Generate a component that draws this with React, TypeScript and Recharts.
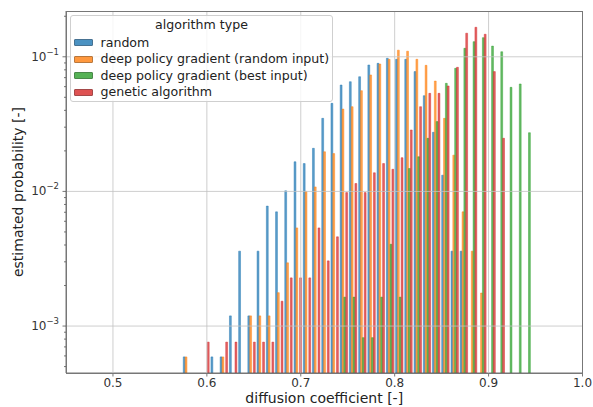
import React from 'react';
import { ComposedChart, Bar, XAxis, YAxis, CartesianGrid } from 'recharts';

const binCenters = [
  0.5787, 0.5885, 0.5984, 0.6082, 0.618, 0.6279, 0.6377, 0.6475, 0.6573, 0.6672,
  0.677, 0.6868, 0.6967, 0.7065, 0.7163, 0.7262, 0.736, 0.7458, 0.7556, 0.7655,
  0.7753, 0.7851, 0.795, 0.8048, 0.8146, 0.8245, 0.8343, 0.8441, 0.8539, 0.8638,
  0.8736, 0.8834, 0.8933, 0.9031, 0.9129, 0.9228, 0.9326, 0.9424,
];

const randomVals = [
  0.00059, null, null, 0.00059, 0.00059, 0.00119, 0.0036, 0.00119, 0.0036, 0.00778,
  0.00705, 0.0101, 0.0166, 0.0161, 0.0209, 0.0349, 0.0451, 0.0617, 0.0653, 0.0711,
  0.0869, 0.0894, 0.0975, 0.0958, 0.0958, 0.0776, 0.0514, 0.0275, 0.0132, 0.0036,
  0.0036, null, null, null, null, null, null, null,
];

const dpgRandomVals = [
  0.00059, null, null, null, 0.00059, null, null, 0.00119, 0.00119, 0.00119,
  0.00177, 0.00295, 0.00536, 0.01, 0.0108, 0.0197, 0.0191, 0.0409, 0.0426, 0.056,
  0.0733, 0.0884, 0.0958, 0.112, 0.11, 0.0958, 0.0864, 0.066, 0.0349, 0.0186,
  0.00705, 0.0036, 0.00176, null, null, null, null, null,
];

const dpgBestVals = [
  null, null, null, null, null, null, null, null, null, null,
  null, null, null, null, null, null, null, 0.00164, 0.00164, 0.00082,
  0.00082, 0.00164, 0.00405, 0.00164, 0.0148, 0.0181, 0.0248, 0.033, 0.0635, 0.0821,
  0.1156, 0.1295, 0.1387, 0.12, 0.109, 0.0593, 0.0628, 0.0273,
];

const geneticVals = [
  null, null, 0.00076, null, 0.00076, 0.00076, null, 0.00076, 0.00076, 0.00076,
  0.00153, 0.00228, 0.00228, 0.00228, 0.00536, 0.00305, 0.0046, 0.0098, 0.01145, 0.0098,
  0.01375, 0.0161, 0.0146, 0.0178, 0.0286, 0.0426, 0.0535, 0.0535, 0.0607, 0.0835,
  0.1496, 0.1656, 0.147, 0.0776, 0.0248, null, null, null,
];

const seriesNames = [
  'random',
  'deep policy gradient (random input)',
  'deep policy gradient (best input)',
  'genetic algorithm',
];
const seriesColors = ['#1f77b4', '#ff7f0e', '#2ca02c', '#d62728'];
const seriesEdges = ['#1a4f78', '#a8580e', '#1e6b1e', '#8e1c1c'];
const seriesValues = [randomVals, dpgRandomVals, dpgBestVals, geneticVals];

const legendTitle = 'algorithm type';
const xLabel = 'diffusion coefficient [-]';
const yLabel = 'estimated probability [-]';

const xTicks = [0.5, 0.6, 0.7, 0.8, 0.9, 1.0];
const xGridValues = [0.5, 0.6, 0.7, 0.8, 0.9];
const yMajorTicks = [0.001, 0.01, 0.1];
const yAllTicks = [
  0.0005, 0.0006, 0.0007, 0.0008, 0.0009, 0.001,
  0.002, 0.003, 0.004, 0.005, 0.006, 0.007, 0.008, 0.009, 0.01,
  0.02, 0.03, 0.04, 0.05, 0.06, 0.07, 0.08, 0.09, 0.1, 0.2,
];

const X_DOMAIN: [number, number] = [0.45, 1.0];
const Y_DOMAIN: [number, number] = [0.000448, 0.2188];

const FONT = '"DejaVu Sans", sans-serif';

const PLOT = { left: 66, top: 11, right: 10.5, bottom: 34 };
const W = 593;
const H = 407;

const data = binCenters.map((x, i) => {
  const row: Record<string, number | null> = { x };
  seriesValues.forEach((vals, s) => {
    row['s' + s] = vals[i];
  });
  return row;
});

const YTick = (props: any) => {
  const { x, y, payload } = props;
  const v = payload.value as number;
  const lg = Math.log10(v);
  const e = Math.round(lg);
  const major = Math.abs(lg - e) < 1e-6;
  return (
    <g>
      <line x1={x - (major ? 3.5 : 2)} x2={x} y1={y} y2={y} stroke="#555" strokeWidth={0.8} />
      {major && (
        <text x={x - 7} y={y + 4} textAnchor="end" fontSize={12} fill="#333" fontFamily={FONT}>
          10
          <tspan dy={-6} fontSize={8.5}>{'\u2212' + String(-e)}</tspan>
        </text>
      )}
    </g>
  );
};

export default function App() {
  return (
    <div style={{ position: 'fixed', left: 0, top: 0, width: W, height: H, background: '#fff', fontFamily: FONT }}>
      <ComposedChart
        width={W}
        height={H}
        data={data}
        margin={{ top: PLOT.top, right: PLOT.right, left: 0, bottom: 0 }}
        barSize={1.85}
        barGap={0}
        barCategoryGap="10%"
      >
        {seriesNames.map((name, s) => (
          <Bar
            key={name}
            dataKey={'s' + s}
            name={name}
            fill={seriesColors[s]}
            fillOpacity={0.72}
            stroke={seriesColors[s]}
            strokeWidth={0.45}
            isAnimationActive={false}
          />
        ))}
        <CartesianGrid
          horizontalValues={yMajorTicks}
          verticalValues={xGridValues}
          stroke="#c2c2c2"
          strokeWidth={0.8}
          zIndex={600}
        />
        <XAxis
          dataKey="x"
          type="number"
          domain={X_DOMAIN}
          allowDataOverflow
          ticks={xTicks}
          interval={0}
          tickFormatter={(v: number) => v.toFixed(1)}
          height={PLOT.bottom}
          tickSize={3.5}
          tickMargin={2}
          tick={{ fontSize: 12, fill: '#333', fontFamily: FONT }}
          tickLine={{ stroke: '#555', strokeWidth: 0.8 }}
          axisLine={{ stroke: '#666', strokeWidth: 0.9 }}
          label={{ value: xLabel, position: 'insideBottom', offset: 4, fontSize: 14, fill: '#222', fontFamily: FONT }}
        />
        <YAxis
          scale="log"
          type="number"
          domain={Y_DOMAIN}
          allowDataOverflow
          ticks={yAllTicks}
          interval={0}
          width={PLOT.left}
          tickSize={0}
          tickMargin={0}
          tickLine={false}
          tick={<YTick />}
          axisLine={{ stroke: '#666', strokeWidth: 0.9 }}
        />
      </ComposedChart>

      <div
        style={{
          position: 'absolute',
          left: PLOT.left - 0.5,
          top: PLOT.top - 0.5,
          width: W - PLOT.left - PLOT.right + 1,
          height: H - PLOT.top - PLOT.bottom + 1,
          boxSizing: 'border-box',
          border: '1px solid #777',
          pointerEvents: 'none',
        }}
      />

      <div
        style={{
          position: 'absolute',
          left: 18,
          top: 192,
          transform: 'translate(-50%, -50%) rotate(-90deg)',
          whiteSpace: 'nowrap',
          fontSize: 14,
          color: '#222',
          fontFamily: FONT,
        }}
      >
        {yLabel}
      </div>

      <div
        style={{
          position: 'absolute',
          left: 70,
          top: 15,
          width: 263,
          height: 87,
          boxSizing: 'border-box',
          border: '1px solid #cfcfcf',
          borderRadius: 3,
          background: 'rgba(255,255,255,0.8)',
          fontSize: 12.6,
          color: '#222',
          fontFamily: FONT,
        }}
      >
        <div style={{ position: 'absolute', top: 1, left: 0, width: '100%', textAlign: 'center', lineHeight: '16px' }}>
          {legendTitle}
        </div>
        {seriesNames.map((name, s) => (
          <div
            key={name}
            style={{
              position: 'absolute',
              left: 3,
              top: 18.5 + s * 16.5,
              height: 16,
              display: 'flex',
              alignItems: 'center',
              whiteSpace: 'nowrap',
            }}
          >
            <span
              style={{
                display: 'inline-block',
                width: 17,
                height: 5,
                background: seriesColors[s],
                opacity: 0.8,
                border: '1px solid ' + seriesEdges[s],
                borderRadius: 1,
                marginRight: 7.5,
              }}
            />
            <span style={{ lineHeight: '16px' }}>{name}</span>
          </div>
        ))}
      </div>
    </div>
  );
}
